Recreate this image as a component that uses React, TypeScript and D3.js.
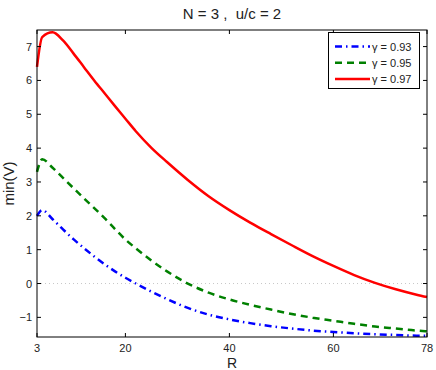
import * as d3 from 'd3'

const rValues = [3, 4, 6, 8, 10, 12, 14, 16, 18, 20, 22, 25, 28, 32, 36, 40, 44, 48, 52, 56, 60, 64, 68, 72, 76, 78]
const v093 = [2.0, 2.17, 1.9, 1.6, 1.31, 1.05, 0.8, 0.57, 0.36, 0.17, 0.0, -0.24, -0.46, -0.72, -0.92, -1.06, -1.17, -1.26, -1.33, -1.39, -1.43, -1.47, -1.5, -1.52, -1.54, -1.54]
const v095 = [3.3, 3.67, 3.42, 3.12, 2.82, 2.52, 2.23, 1.93, 1.61, 1.3, 1.04, 0.68, 0.36, 0.0, -0.27, -0.47, -0.63, -0.77, -0.9, -1.01, -1.1, -1.19, -1.27, -1.33, -1.39, -1.41]
const v097 = [6.4, 7.28, 7.42, 7.18, 6.8, 6.4, 6.0, 5.62, 5.24, 4.87, 4.5, 4.01, 3.59, 3.06, 2.58, 2.17, 1.8, 1.46, 1.13, 0.81, 0.52, 0.25, 0.02, -0.17, -0.33, -0.4]

const xTicks = [3, 20, 40, 60, 78]
const yTicks = [-1, 0, 1, 2, 3, 4, 5, 6, 7]

const series = [
  { label: 'γ = 0.93', values: v093, color: '#0000ff', dash: '7,4,1.5,4' },
  { label: 'γ = 0.95', values: v095, color: '#008000', dash: '7,5' },
  { label: 'γ = 0.97', values: v097, color: '#ff0000', dash: null },
]

export default function App() {
  const width = 436
  const height = 370
  const left = 37
  const right = 427
  const top = 30
  const bottom = 337

  const x = d3.scaleLinear().domain([3, 78]).range([left, right])
  const y = d3.scaleLinear().domain([-1.58, 7.49]).range([bottom, top])

  const line = d3
    .line<number>()
    .x((_, i) => x(rValues[i]))
    .y(d => y(d))
    .curve(d3.curveMonotoneX)

  const font = 'Liberation Sans, Arial, sans-serif'
  const tick = 4

  return (
    <svg
      width={width}
      height={height}
      style={{ position: 'absolute', left: 0, top: 0, background: '#fff' }}
      fontFamily={font}
    >
      <rect x={0} y={0} width={width} height={height} fill="#fff" />
      <text x={(left + right) / 2} y={19} textAnchor="middle" fontSize={15} fill="#222" style={{ whiteSpace: 'pre' }}>
        {'N = 3 ,  u/c = 2'}
      </text>

      {/* zero reference line */}
      <line x1={left} x2={right} y1={y(0)} y2={y(0)} stroke="#c8c8c8" strokeWidth={1} strokeDasharray="1,3" />

      {/* curves */}
      <g>
        {series.map(s => (
          <path
            key={s.label}
            d={line(s.values) ?? ''}
            fill="none"
            stroke={s.color}
            strokeWidth={2.5}
            strokeDasharray={s.dash ?? undefined}
          />
        ))}
      </g>

      {/* axes box */}
      <rect x={left} y={top} width={right - left} height={bottom - top} fill="none" stroke="#000" strokeWidth={1} />

      {xTicks.map(t => (
        <g key={'x' + t}>
          <line x1={x(t)} x2={x(t)} y1={bottom} y2={bottom - tick} stroke="#000" />
          <line x1={x(t)} x2={x(t)} y1={top} y2={top + tick} stroke="#000" />
          <text x={x(t)} y={bottom + 15} textAnchor="middle" fontSize={11} fill="#222">
            {t}
          </text>
        </g>
      ))}

      {yTicks.map(t => (
        <g key={'y' + t}>
          <line x1={left} x2={left + tick} y1={y(t)} y2={y(t)} stroke="#000" />
          <line x1={right} x2={right - tick} y1={y(t)} y2={y(t)} stroke="#000" />
          <text x={left - 5} y={y(t) + 4} textAnchor="end" fontSize={11} fill="#222">
            {t < 0 ? '−' + Math.abs(t) : t}
          </text>
        </g>
      ))}

      <text x={(left + right) / 2} y={368} textAnchor="middle" fontSize={14} fill="#222">
        R
      </text>
      <text
        transform={`translate(14,${(top + bottom) / 2}) rotate(-90)`}
        textAnchor="middle"
        fontSize={15}
        fill="#222"
      >
        min(V)
      </text>

      {/* legend */}
      <g>
        <rect x={328.5} y={32.5} width={91} height={56} fill="#fff" stroke="#000" strokeWidth={1} />
        {series.map((s, i) => {
          const ly = 46.5 + i * 16.3
          return (
            <g key={'lg' + s.label}>
              <line x1={335} x2={370} y1={ly} y2={ly} stroke={s.color} strokeWidth={2.5} strokeDasharray={s.dash ?? undefined} />
              <text x={372} y={ly + 4} fontSize={11} fill="#222">
                {s.label}
              </text>
            </g>
          )
        })}
      </g>
    </svg>
  )
}
